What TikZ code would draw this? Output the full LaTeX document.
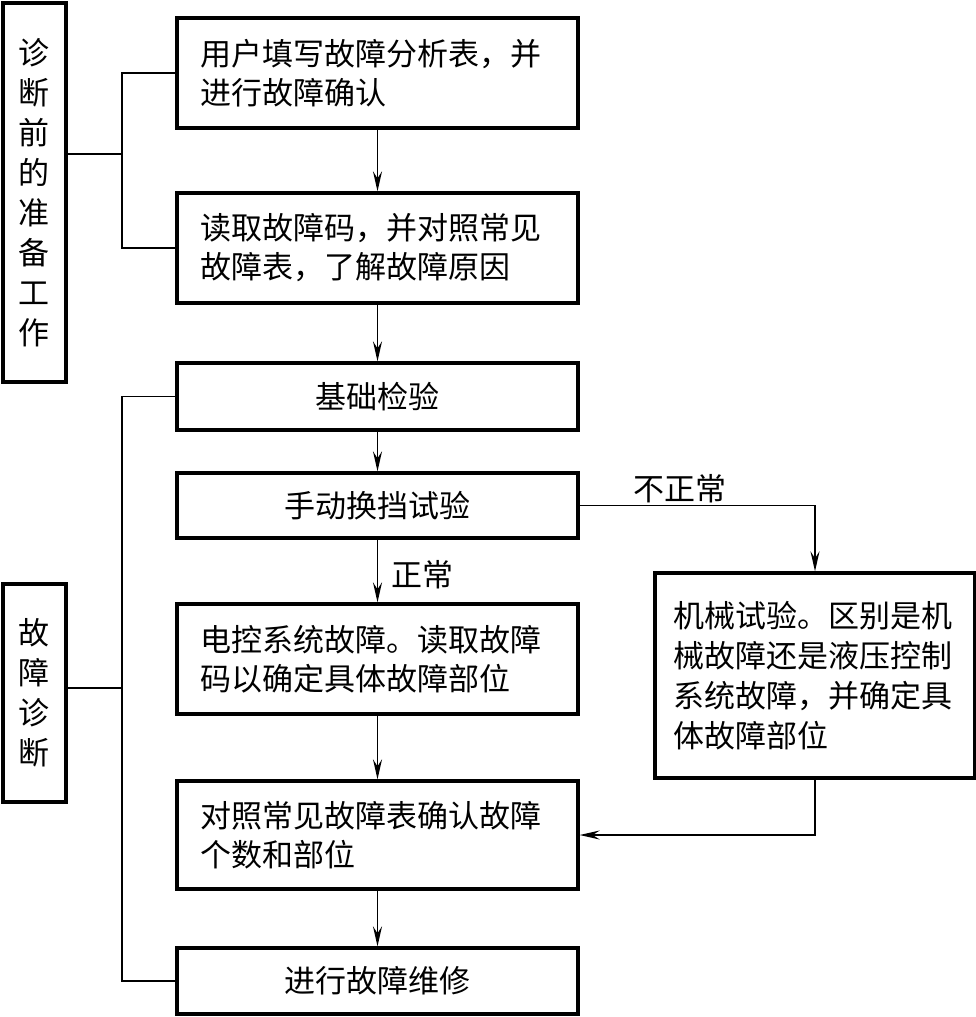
\documentclass[tikz,border=0pt]{standalone}
\usepackage{fontspec}
\setmainfont{Noto Sans CJK SC}
\usetikzlibrary{arrows.meta}
\begin{document}
\begin{tikzpicture}[x=1pt,y=-1pt,
  every node/.style={font=\fontsize{31pt}{39pt}\selectfont},
  mbox/.style={draw,line width=3.3pt,minimum width=401pt,inner xsep=0pt,inner ysep=0pt,anchor=center},
  lbox/.style={draw,line width=3.3pt,minimum width=63pt,text width=40pt,align=center,inner sep=0pt,anchor=center,font=\fontsize{31pt}{40pt}\selectfont},
  conn/.style={line width=1.8pt},
  arr/.style={conn,-{Stealth[length=20pt,width=9pt,inset=7pt]}},
  lbl/.style={inner sep=0pt}
]
\useasboundingbox (0,0) rectangle (976,1017);
% left boxes
\node[lbox,minimum height=379pt] (L1) at (34.5,192.5) {诊\\断\\前\\的\\准\\备\\工\\作};
\node[lbox,minimum height=218pt] (L2) at (34.5,693) {故\\障\\诊\\断};
% main boxes
\node[mbox,minimum height=110pt,text width=355pt,align=left] (b1) at (377.5,73) {用户填写故障分析表，并\\进行故障确认};
\node[mbox,minimum height=110pt,text width=355pt,align=left] (b2) at (377.5,248) {读取故障码，并对照常见\\故障表，了解故障原因};
\node[mbox,minimum height=67pt,text width=355pt,align=center] (b3) at (377.5,396.5) {基础检验};
\node[mbox,minimum height=65pt,text width=355pt,align=center] (b4) at (377.5,505.5) {手动换挡试验};
\node[mbox,minimum height=110pt,text width=355pt,align=left] (b5) at (377.5,659) {电控系统故障。读取故障\\码以确定具体故障部位};
\node[mbox,minimum height=108pt,text width=355pt,align=left] (b6) at (377.5,835) {对照常见故障表确认故障\\个数和部位};
\node[mbox,minimum height=66pt,text width=355pt,align=center] (b7) at (377.5,981) {进行故障维修};
\node[draw,line width=3.3pt,minimum width=320pt,minimum height=205pt,text width=284pt,align=left,inner xsep=0pt,inner ysep=0pt,anchor=center,font=\fontsize{31pt}{40pt}\selectfont] (rb) at (815,675.5) {机械试验。区别是机\\械故障还是液压控制\\系统故障，并确定具\\体故障部位};
% labels
\node[lbl] (n1) at (680,489) {不正常};
\node[lbl] (n2) at (422,575) {正常};
% vertical flow
\draw[arr] (b1) -- (b2);
\draw[arr] (b2) -- (b3);
\draw[arr] (b3) -- (b4);
\draw[arr] (b4) -- (b5);
\draw[arr] (b5) -- (b6);
\draw[arr] (b6) -- (b7);
\draw[arr] (b4.east) -| (rb.north);
\draw[arr] (rb.south) |- (b6.east);
% brackets
\coordinate (j1) at (122,154);
\coordinate (j2) at (122,688);
\draw[conn] (b1.west) -| (j1) |- (b2.west);
\draw[conn] (L1.east |- j1) -- (j1);
\draw[conn] (b3.west) -| (j2) |- (b7.west);
\draw[conn] (L2.east |- j2) -- (j2);
\end{tikzpicture}
\end{document}
